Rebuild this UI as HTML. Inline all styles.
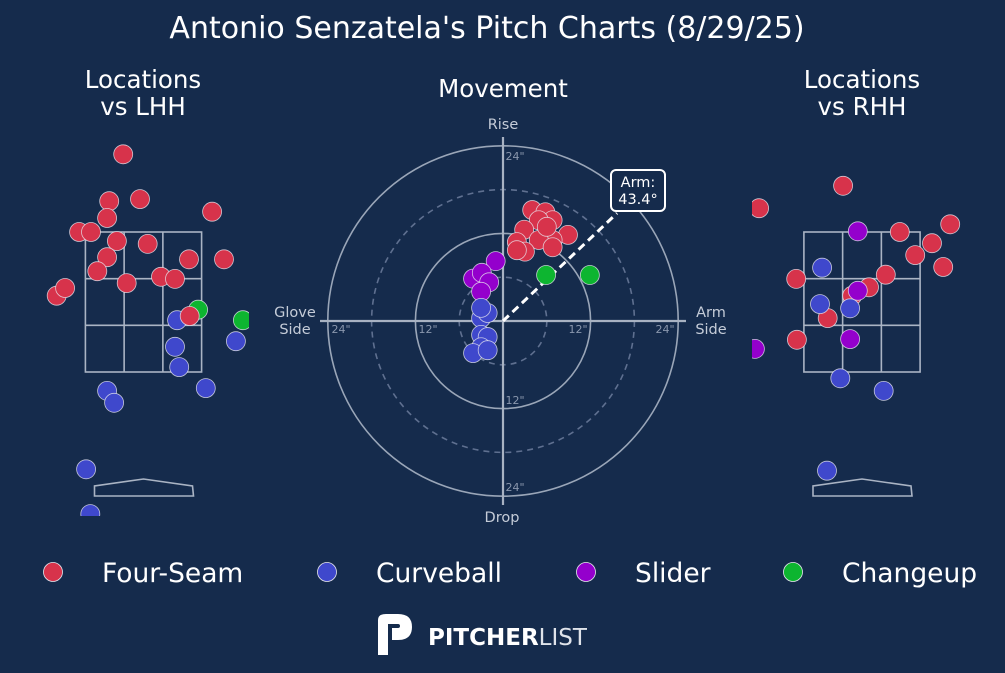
<!DOCTYPE html>
<html><head><meta charset="utf-8"><style>
body{margin:0;background:#152b4c;width:1005px;height:673px;overflow:hidden;font-family:"DejaVu Sans","Liberation Sans",sans-serif}
svg{display:block}
</style></head><body>
<svg id="chart" width="1005" height="673" xmlns="http://www.w3.org/2000/svg" font-family="DejaVu Sans, Liberation Sans, sans-serif">
<rect width="1005" height="673" fill="#152b4c"/>
<defs>
<clipPath id="clipL"><rect x="0" y="130" width="249" height="386"/></clipPath>
<clipPath id="clipR"><rect x="752" y="130" width="253" height="386"/></clipPath>
</defs>
<text x="487" y="38" text-anchor="middle" font-size="30" fill="#fff">Antonio Senzatela's Pitch Charts (8/29/25)</text>
<text x="143" y="88" text-anchor="middle" font-size="24.5" fill="#fff"><tspan x="143">Locations</tspan><tspan x="143" dy="27">vs LHH</tspan></text>
<text x="862" y="88" text-anchor="middle" font-size="24.5" fill="#fff"><tspan x="862">Locations</tspan><tspan x="862" dy="27">vs RHH</tspan></text>
<text x="503" y="97" text-anchor="middle" font-size="24.5" fill="#fff">Movement</text>
<g id="zoneL"></g>
<g id="zoneR"></g>
<g id="mov"></g>
<g id="ptsL" clip-path="url(#clipL)"></g>
<g id="ptsR" clip-path="url(#clipR)"></g>
<g id="ptsM"></g>
<g id="legend"></g>
<g>
<path d="M378 620 Q378 614 386 614 L398 614 Q412 614 412 627 Q412 640 398 640 L392 640 L392 628 L398 628 Q400 628 400 626 Q400 624 398 624 L388 624 L388 655 L378 655 Z" fill="#fff"/>
<text x="428" y="645" font-size="23" fill="#fff"><tspan font-weight="bold">PITCHER</tspan><tspan font-weight="normal" fill="#dfe3ea">LIST</tspan></text>
</g>
</svg>
<script>
const pitchTypes=["Four-Seam","Curveball","Slider","Changeup"];
const pitchColors=["#d7334b","#3f48cc","#9400cc","#0db530"];
// Locations vs LHH (plate x ft, height ft)
const lhhX=[-0.29,-0.49,-0.05,-0.52,0.98,-0.92,-0.75,-0.38,0.06,-0.52,0.65,1.15,-0.66,-0.24,0.25,0.45,-1.24,-1.12,0.48,0.45,0.51,1.32,-0.52,-0.42,0.89,-0.82,-0.76,0.78,1.42,0.66];
const lhhZ=[4.61,3.94,3.97,3.70,3.79,3.50,3.50,3.37,3.33,3.14,3.11,3.11,2.94,2.77,2.86,2.83,2.59,2.70,2.24,1.86,1.57,1.94,1.23,1.06,1.27,0.11,-0.53,2.39,2.24,2.30];
const lhhT=[0,0,0,0,0,0,0,0,0,0,0,0,0,0,0,0,0,0,1,1,1,1,1,1,1,1,1,3,3,0];
// Locations vs RHH
const rhhX=[-0.27,-1.47,1.26,0.54,1.00,0.76,1.16,-0.94,0.34,0.10,-0.14,-0.49,-0.93,-0.57,-0.31,0.31,-0.5,-0.06,-0.6,-0.17,-1.53,-0.17,-0.06];
const rhhZ=[4.16,3.84,3.61,3.50,3.34,3.17,3.00,2.83,2.89,2.71,2.59,2.27,1.96,2.99,1.41,1.23,0.09,3.51,2.47,1.97,1.83,2.41,2.66];
const rhhT=[0,0,0,0,0,0,0,0,0,0,0,0,0,1,1,1,1,2,1,2,2,1,2];
// Movement (inches horizontal break, induced vertical break)
const movX=[4.0,5.8,6.8,4.9,2.9,8.9,6.8,4.9,1.9,3.0,1.9,6.8,6.0,5.9,11.9,-1.0,-4.1,-2.9,-1.9,-3.0,-3.0,-2.1,-3.0,-2.1,-3.0,-4.1,-2.1,-3.0];
const movY=[15.2,14.9,13.8,13.8,12.5,11.8,11.1,11.1,10.8,9.5,9.7,10.1,12.9,6.3,6.3,8.2,5.8,6.6,5.3,4.0,0.4,1.1,-1.9,-2.2,-3.6,-4.4,-4.0,1.8];
const movT=[0,0,0,0,0,0,0,0,0,0,0,0,0,3,3,2,2,2,2,2,1,1,1,1,1,1,1,1];
const armAngle=43.4;
const ringInches=[6,12,18,24];

const NS="http://www.w3.org/2000/svg";
function mk(tag,attrs,parent){const e=document.createElementNS(NS,tag);for(const k in attrs)e.setAttribute(k,attrs[k]);parent.appendChild(e);return e;}
const PPF=70;
function locX(cx,x){return cx+x*PPF;}
function locY(z){return 372-(z-1.5)*PPF;}
function drawZone(g,cx){
  const L=locX(cx,-0.83),R=locX(cx,0.83),T=locY(3.5),B=locY(1.5);
  const st={stroke:"#aab4c4","stroke-width":1.6,fill:"none"};
  mk("rect",Object.assign({x:L,y:T,width:R-L,height:B-T},st),g);
  for(let i=1;i<3;i++){mk("line",Object.assign({x1:L+(R-L)*i/3,x2:L+(R-L)*i/3,y1:T,y2:B},st),g);mk("line",Object.assign({x1:L,x2:R,y1:T+(B-T)*i/3,y2:T+(B-T)*i/3},st),g);}
  mk("polygon",Object.assign({points:`${cx-49},496 ${cx-49},486 ${cx},479 ${cx+49},486 ${cx+50},496`},st),g);
}
drawZone(document.getElementById("zoneL"),143.5);
drawZone(document.getElementById("zoneR"),862);
function dot(g,x,y,t){
  const c=mk("circle",{cx:x,cy:y,r:9.5,fill:pitchColors[t],stroke:"#e8e8f0","stroke-width":0.8,"stroke-opacity":0.8},g);
  
  
}
const gL=document.getElementById("ptsL");
lhhX.forEach((x,i)=>dot(gL,locX(143.5,x),locY(lhhZ[i]),lhhT[i]));
const gR=document.getElementById("ptsR");
rhhX.forEach((x,i)=>dot(gR,locX(862,x),locY(rhhZ[i]),rhhT[i]));
// movement
const MCX=503,MCY=321,PPI=7.3;
function mX(v){return MCX+v*PPI;}
function mY(v){return MCY-v*PPI;}
const gM=document.getElementById("mov");
ringInches.forEach(r=>{const dashed=(r%12!==0);mk("circle",{cx:MCX,cy:MCY,r:r*PPI,fill:"none",stroke:dashed?"#5f7090":"#9aa6b8","stroke-width":1.6,"stroke-dasharray":dashed?"6,5":"none"},gM);});
mk("line",{x1:320,x2:686,y1:MCY,y2:MCY,stroke:"#a8b2c2","stroke-width":2.2},gM);
mk("line",{x1:MCX,x2:MCX,y1:137,y2:505,stroke:"#a8b2c2","stroke-width":2.2},gM);
const tick={fill:"#8a97ad","font-size":11};
[[515,160,'24"'],[515,404,'12"'],[515,491,'24"'],[341,333,'24"'],[428,333,'12"'],[578,333,'12"'],[665,333,'24"']].forEach(a=>{const t=mk("text",Object.assign({x:a[0],y:a[1],"text-anchor":"middle"},tick),gM);t.textContent=a[2];});
const lab={fill:"#c5ccd8","font-size":14.5,"text-anchor":"middle"};
[[503,129,"Rise"],[502,522,"Drop"],[295,317,"Glove"],[295,334,"Side"],[711,317,"Arm"],[711,334,"Side"]].forEach(a=>{const t=mk("text",Object.assign({x:a[0],y:a[1]},lab),gM);t.textContent=a[2];});
const rad=armAngle*Math.PI/180,len=21.5;
mk("line",{x1:MCX,y1:MCY,x2:mX(len*Math.cos(rad)),y2:mY(len*Math.sin(rad)),stroke:"#fff","stroke-width":3,"stroke-dasharray":"8,5"},gM);
mk("rect",{x:611,y:170,width:54,height:41,rx:5,fill:"#152b4c",stroke:"#fff","stroke-width":2},gM);
const a1=mk("text",{x:638,y:187,"text-anchor":"middle",fill:"#fff","font-size":14.5},gM);a1.textContent="Arm:";
const a2=mk("text",{x:638,y:204,"text-anchor":"middle",fill:"#fff","font-size":14.5},gM);a2.textContent=armAngle.toFixed(1)+"°";
const gP=document.getElementById("ptsM");
movX.forEach((x,i)=>dot(gP,mX(x),mY(movY[i]),movT[i]));
// legend
const gLeg=document.getElementById("legend");
const legX=[53,327,586,793];
pitchTypes.forEach((p,i)=>{
  const c=mk("circle",{cx:legX[i],cy:572,r:9.5,fill:pitchColors[i],stroke:"#e8e8f0","stroke-width":0.8},gLeg);
  
  
  const t=mk("text",{x:legX[i]+49,y:582,fill:"#fff","font-size":26.5},gLeg);
  t.textContent=p;
  
  
});
</script>
</body></html>
